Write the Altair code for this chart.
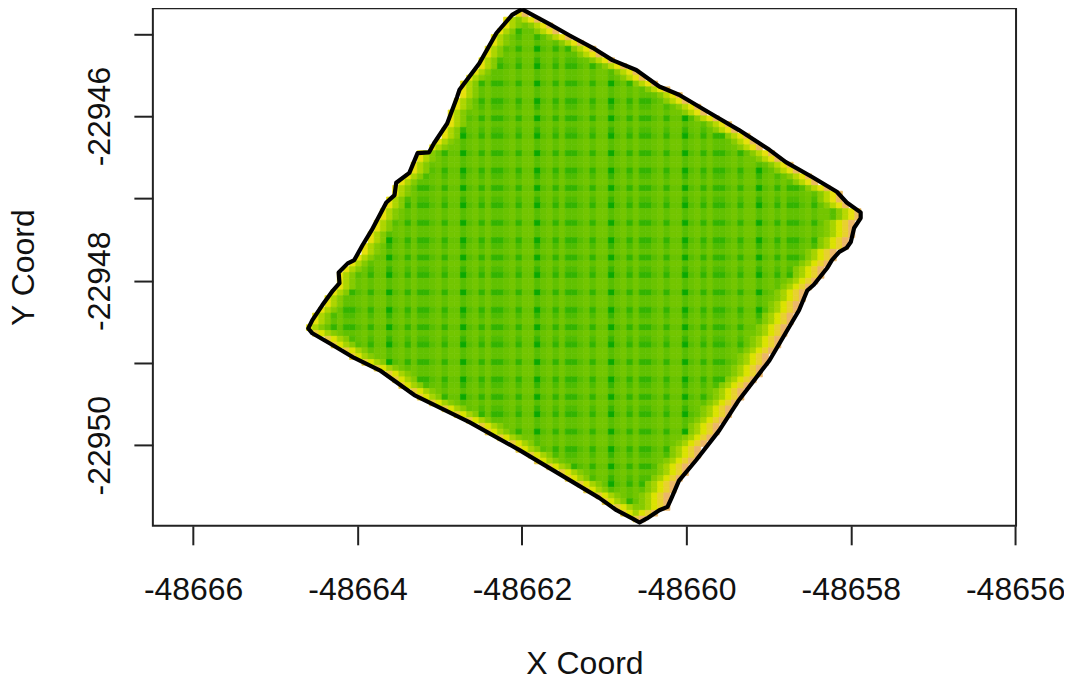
import altair as alt
import pandas as pd

alt.data_transformers.disable_max_rows()

# Field boundary (map coordinates), clockwise from the top corner
BOUND_X = [-48662.00,-48661.89,-48661.67,-48661.42,-48661.14,-48660.90,-48660.61,-48660.33,-48660.09,-48659.72,
           -48659.36,-48658.99,-48658.79,-48658.47,-48658.17,-48658.05,-48657.88,-48657.88,-48657.96,-48658.00,
           -48658.05,-48658.14,-48658.23,-48658.29,-48658.45,-48658.53,-48658.63,-48658.99,-48659.36,-48659.60,
           -48659.88,-48660.09,-48660.18,-48660.23,-48660.33,-48660.48,-48660.57,-48660.66,-48660.85,-48661.06,
           -48662.03,-48662.64,-48663.31,-48663.73,-48664.04,-48664.34,-48664.55,-48664.60,-48664.55,-48664.43,
           -48664.30,-48664.22,-48664.23,-48664.12,-48664.04,-48663.94,-48663.83,-48663.65,-48663.55,-48663.53,
           -48663.37,-48663.27,-48663.13,-48663.07,-48662.91,-48662.79,-48662.76,-48662.52,-48662.31,-48662.12,
           -48662.00]
BOUND_Y = [-22944.70,-22944.76,-22944.88,-22945.02,-22945.17,-22945.32,-22945.44,-22945.64,-22945.74,-22945.96,
           -22946.17,-22946.41,-22946.56,-22946.74,-22946.92,-22947.05,-22947.17,-22947.24,-22947.36,-22947.53,
           -22947.60,-22947.65,-22947.75,-22947.85,-22948.05,-22948.12,-22948.36,-22948.97,-22949.45,-22949.82,
           -22950.18,-22950.43,-22950.64,-22950.75,-22950.79,-22950.89,-22950.94,-22950.89,-22950.79,-22950.64,
           -22950.06,-22949.72,-22949.39,-22949.09,-22948.94,-22948.76,-22948.64,-22948.58,-22948.48,-22948.30,
           -22948.12,-22948.03,-22947.90,-22947.79,-22947.75,-22947.57,-22947.39,-22947.05,-22946.96,-22946.81,
           -22946.69,-22946.45,-22946.44,-22946.33,-22946.09,-22945.77,-22945.68,-22945.36,-22944.99,-22944.77,
           -22944.70]

# Raster grid
GRID_X0 = -48664.697
GRID_DX = 0.07495
GRID_Y0 = -22944.6565
GRID_DY = 0.07052

# Per-column and per-row stripe strength
COL_LEVELS = ("003102022102" "003102022102" "003102022102" "003102022102"
              "003102022102" "003102022102" "003102022102" "003102022")
ROW_LEVELS = ("020021020120" "020021020120" "020021020120" "020021020120"
              "020021020120" "020021020120" "020021020120" "020021")

# First and last raster column of each row, rows 1..88
ROW_FIRST = [35,33,33,32,31,31,30,30,29,29,28,27,26,26,26,25,25,24,24,24,23,23,22,21,19,19,18,18,17,16,
             15,15,14,14,13,13,12,12,11,11,10,10,9,8,7,6,6,6,5,4,4,3,2,2,1,2,4,5,7,8,
             10,12,14,15,16,18,19,21,23,25,27,29,30,32,34,35,37,38,40,42,43,45,46,48,49,51,52,54]
ROW_LAST = [36,38,40,41,43,45,47,48,50,52,54,55,57,59,61,62,64,65,67,69,70,72,73,74,76,77,79,80,82,83,
            85,87,87,88,90,90,89,89,89,88,88,86,86,85,84,84,83,82,81,81,80,80,79,79,78,78,77,77,76,75,
            75,74,74,73,72,71,71,70,69,69,68,67,67,66,65,64,64,63,62,62,61,60,60,59,59,59,57,55]

# Colour position of a cell: TONE[column level][row level]
TONE = [[0.50, 0.48, 0.45],
        [0.46, 0.44, 0.38],
        [0.42, 0.34, 0.22],
        [0.38, 0.24, 0.05]]
# Colour position of the cells nearest the boundary, one list per side of the field
UPPER_LEFT_RAMP = [1.1, 0.75, 0.58]
LOWER_LEFT_RAMP = [1.5, 0.95, 0.72, 0.58]
UPPER_RIGHT_RAMP = [1.8, 1.1, 0.8, 0.6]
LOWER_RIGHT_RAMP = [1.9, 1.4, 0.95, 0.72, 0.58]
LEFT_CORNER_ROW = 55
RIGHT_CORNER_ROW = 36

TERRAIN_STOPS = [0, 1, 2, 3]
TERRAIN_COLORS = ["#00A600", "#E6E600", "#ECB176", "#F2F2F2"]

X_TICKS = [-48666, -48664, -48662, -48660, -48658, -48656]
Y_TICKS = [-22945, -22946, -22947, -22948, -22949, -22950]

cells = []
for n, (first, last) in enumerate(zip(ROW_FIRST, ROW_LAST)):
    j = n + 1
    left_ramp = UPPER_LEFT_RAMP if j <= LEFT_CORNER_ROW else LOWER_LEFT_RAMP
    right_ramp = UPPER_RIGHT_RAMP if j <= RIGHT_CORNER_ROW else LOWER_RIGHT_RAMP
    for i in range(first, last + 1):
        v = TONE[int(COL_LEVELS[i])][int(ROW_LEVELS[j])]
        if i - first < len(left_ramp):
            v = max(v, left_ramp[i - first])
        if last - i < len(right_ramp):
            v = max(v, right_ramp[last - i])
        cells.append({"x": GRID_X0 + i * GRID_DX, "x2": GRID_X0 + (i + 1) * GRID_DX,
                      "y": GRID_Y0 - j * GRID_DY, "y2": GRID_Y0 - (j + 1) * GRID_DY, "v": v})
cells = pd.DataFrame(cells)
bound = pd.DataFrame({"x": BOUND_X, "y": BOUND_Y, "k": range(len(BOUND_X))})

INK = "#222222"
FONT = "Liberation Sans"
x_scale = alt.Scale(domain=[-48666.49, -48655.99], nice=False, zero=False)
y_scale = alt.Scale(domain=[-22950.98, -22944.69], nice=False, zero=False)
v_scale = alt.Scale(domain=TERRAIN_STOPS, range=TERRAIN_COLORS, interpolate="rgb")

x_axis = alt.Axis(values=X_TICKS, grid=False, domain=False, tickSize=19, tickWidth=2, tickColor=INK,
                  labelExpr="'' + datum.value",
                  labelFont=FONT, labelFontSize=32, labelColor="#111111", labelPadding=55,
                  labelBaseline="alphabetic", labelOverlap=False, labelFlush=False,
                  title="X Coord", titleFont=FONT, titleFontSize=32, titleFontWeight="normal", titleColor="#111111",
                  titleBaseline="alphabetic", titleY=148)
y_axis = alt.Axis(values=Y_TICKS, grid=False, domain=False, tickSize=19, tickWidth=2, tickColor=INK,
                  labelFont=FONT, labelFontSize=32, labelColor="#111111", labelPadding=24, labelAngle=270,
                  labelAlign="center", labelBaseline="alphabetic", labelOverlap=False, labelFlush=False,
                  labelExpr="datum.value % 2 == 0 ? '' + datum.value : ''",
                  title="Y Coord", titleFont=FONT, titleFontSize=32, titleFontWeight="normal", titleColor="#111111",
                  titleAngle=270, titleBaseline="alphabetic", titleX=-119)

raster = alt.Chart(cells).mark_rect(strokeWidth=0.7).encode(
    x=alt.X("x:Q", scale=x_scale, axis=x_axis),
    x2="x2:Q",
    y=alt.Y("y:Q", scale=y_scale, axis=y_axis),
    y2="y2:Q",
    color=alt.Color("v:Q", legend=None, scale=v_scale),
    stroke=alt.Stroke("v:Q", legend=None, scale=v_scale),
)
outline = alt.Chart(bound).mark_line(color="#000000", strokeWidth=4.2, strokeJoin="round").encode(
    x=alt.X("x:Q", scale=x_scale), y=alt.Y("y:Q", scale=y_scale), order="k:Q"
)

chart = (raster + outline).properties(
    width=864, height=518, background="white",
    padding={"left": 145, "top": 0, "right": 48, "bottom": 150},
    autosize=alt.AutoSizeParams(type="none"),
).configure_view(stroke=INK, strokeWidth=2)

chart.save("out.html", embed_options={"renderer": "svg", "actions": False})
